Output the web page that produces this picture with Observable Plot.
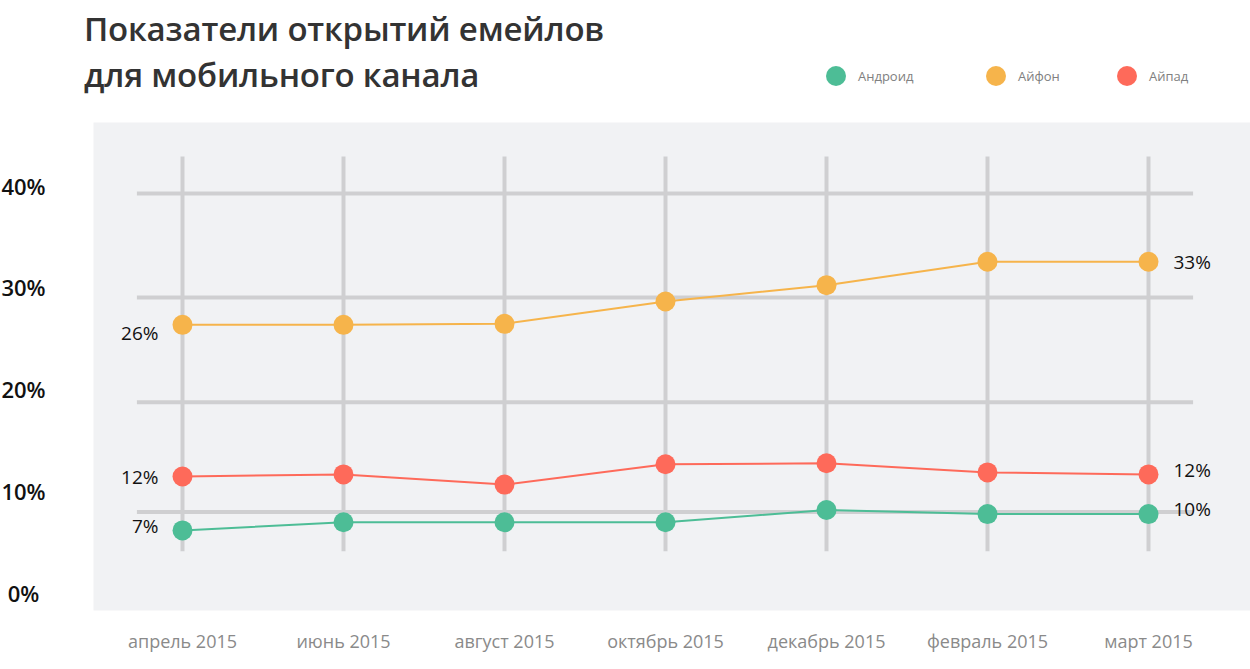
<!DOCTYPE html>
<html>
<head>
<meta charset="utf-8">
<script src="https://cdn.jsdelivr.net/npm/d3@7"></script>
<script src="https://cdn.jsdelivr.net/npm/@observablehq/plot@0.6"></script>
<style>
  html, body { margin: 0; padding: 0; background: #fff; }
  #wrap { position: relative; width: 1250px; height: 669px; font-family: "Open Sans", sans-serif; }
  #title { position: absolute; left: 84px; top: 6px; font-size: 33px; font-weight: 600; color: #333; line-height: 46px; letter-spacing: -0.2px; }
  #legend { position: absolute; top: 66px; left: 0; width: 1250px; height: 22px; font-size: 13px; color: #808080; }
  .li { position: absolute; display: flex; align-items: center; }
  .sw { width: 20px; height: 20px; border-radius: 50%; display: inline-block; margin-right: 12px; }
  #chart { position: absolute; left: 0; top: 0; }
</style>
</head>
<body>
<div id="wrap">
  <div id="chart"></div>
  <div id="title">Показатели открытий емейлов<br>для мобильного канала</div>
  <div id="legend"></div>
</div>
<script>
// ---- data ----
const months = ["апрель 2015", "июнь 2015", "август 2015", "октябрь 2015", "декабрь 2015", "февраль 2015", "март 2015"];
const seriesNames = ["Андроид", "Айфон", "Айпад"];
const seriesColors = ["#4dbd96", "#f6b44b", "#fe6a5a"];
const android = [6.3, 7.1, 7.1, 7.1, 8.3, 7.9, 7.9];
const iphone  = [26.5, 26.5, 26.6, 28.8, 30.4, 32.7, 32.7];
const ipad    = [11.6, 11.8, 10.8, 12.8, 12.9, 12.0, 11.8];
const startLabels = ["7%", "26%", "12%"];
const endLabels   = ["10%", "33%", "12%"];
const yTicks = [0, 10, 20, 30, 40];
const gridY = [8.1, 18.9, 29.2, 39.4];

const seriesValues = [android, iphone, ipad];
const rows = [];
seriesNames.forEach((s, si) => seriesValues[si].forEach((v, i) => rows.push({series: s, i, v})));
const idx = months.map((m, i) => i);

// legend
const legendX = [826, 986, 1117];
const legend = document.getElementById("legend");
seriesNames.forEach((s, si) => {
  const d = document.createElement("div");
  d.className = "li";
  d.style.left = legendX[si] + "px";
  d.innerHTML = `<span class="sw" style="background:${seriesColors[si]}"></span><span>${s}</span>`;
  legend.appendChild(d);
});

const gridColor = "#cfcfd1";
const labelDyStart = [-3, 9, 1];
const labelDyEnd = [-4, 1, -4];

const marks = [
  Plot.frame({fill: "#f1f2f4", stroke: null}),
  Plot.ruleX(idx, {x: d => d, y1: 4.2, y2: 43, stroke: gridColor, strokeWidth: 4}),
  Plot.ruleY(gridY, {y: d => d, x1: -0.28, x2: 6.28, stroke: gridColor, strokeWidth: 4}),
  Plot.axisY({ticks: yTicks, tickSize: 0, tickFormat: d => d + "%", textAnchor: "middle", dx: -61,
              fontSize: 22, fontWeight: 600, color: "#111", label: null}),
  Plot.axisX({ticks: idx, tickSize: 0, tickPadding: 25, tickFormat: i => months[i],
              fontSize: 18, color: "#8a8a8a", label: null}),
  Plot.line(rows, {x: "i", y: "v", z: "series", stroke: "series", strokeWidth: 2}),
  Plot.dot(rows, {x: "i", y: "v", fill: "series", r: 10, stroke: null}),
];
seriesNames.forEach((s, si) => {
  const vals = seriesValues[si];
  marks.push(Plot.text([0], {x: d => d, y: () => vals[0], text: () => startLabels[si],
    textAnchor: "end", dx: -24, dy: labelDyStart[si], fontSize: 19, fill: "#111"}));
  marks.push(Plot.text([6], {x: d => d, y: () => vals[6], text: () => endLabels[si],
    textAnchor: "start", dx: 25, dy: labelDyEnd[si], fontSize: 19, fill: "#111"}));
});

const chart = Plot.plot({
  width: 1250,
  height: 669,
  marginLeft: 93,
  marginRight: 0,
  marginTop: 122,
  marginBottom: 59,
  style: {fontFamily: "'Open Sans', sans-serif", background: "transparent"},
  x: {type: "linear", domain: [0, 6], range: [182, 1148], axis: null},
  y: {domain: [0, 40], range: [594, 187], axis: null},
  color: {domain: seriesNames, range: seriesColors},
  marks
});
document.getElementById("chart").appendChild(chart);
</script>
</body>
</html>
